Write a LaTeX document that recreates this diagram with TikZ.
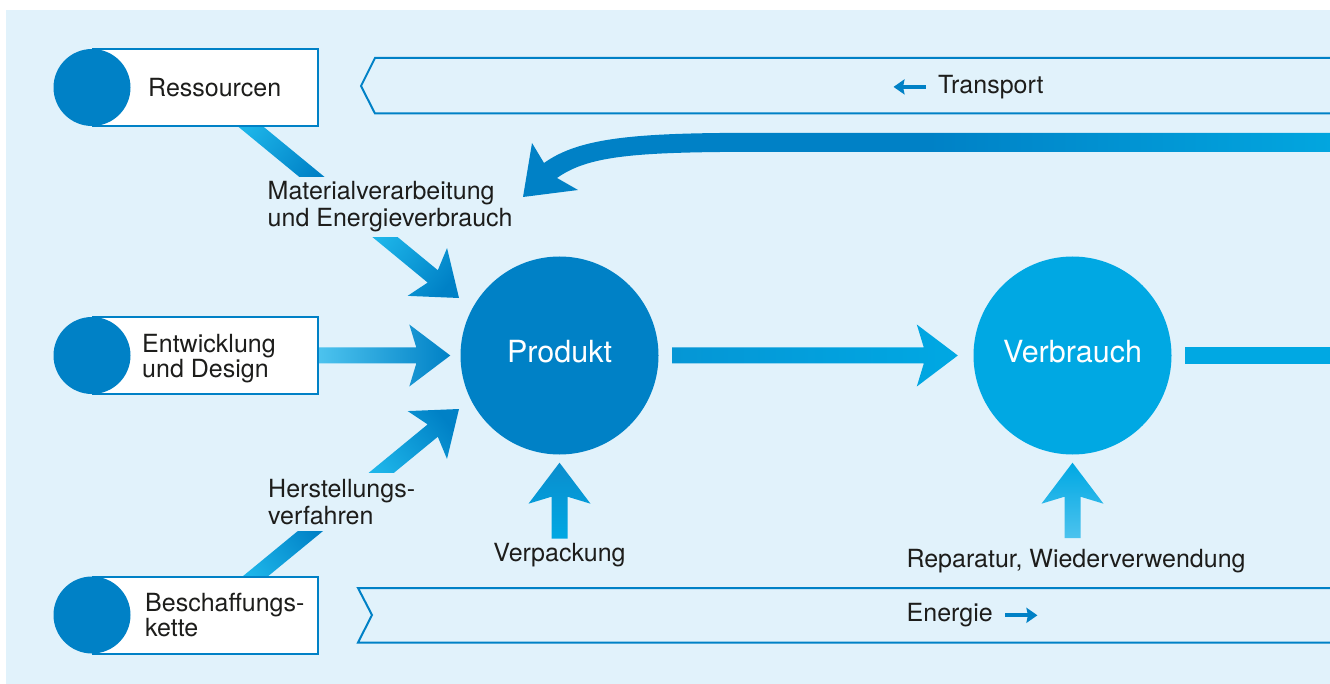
\documentclass[tikz,border=0pt]{standalone}
\usepackage{fontspec}
\setmainfont{TeX Gyre Heros}
\usepackage{xcolor}
\usepackage{tikz}
\usetikzlibrary{positioning,calc,arrows.meta}

\definecolor{bgblue}{HTML}{E1F2FB}
\definecolor{blueD}{HTML}{0081C6}
\definecolor{blueV}{HTML}{00A8E3}
\definecolor{blueL}{HTML}{1DB5E9}
\definecolor{blueLL}{HTML}{4CC3EE}
\definecolor{blueM}{HTML}{0596D5}
\definecolor{blueP}{HTML}{0A8DCD}
\definecolor{blueR}{HTML}{02A6DF}
\definecolor{txt}{HTML}{1D1D1B}

\pgfdeclarelayer{back}
\pgfdeclarelayer{flow}
\pgfsetlayers{back,flow,main}

% broad arrow from #2 to #3 (shaft 16pt, head 62pt wide)
\newcommand{\fatarrow}[3][]{%
  \coordinate (fa-q) at ($(#3)!34pt!(#2)$);
  \coordinate (fa-r) at ($(#3)!41pt!(#2)$);
  \shade[#1] ($(#2)!8pt!90:(#3)$) -- ($(fa-q)!8pt!90:(#3)$) -- ($(fa-r)!31pt!90:(#3)$) -- (#3)
    -- ($(fa-r)!31pt!-90:(#3)$) -- ($(fa-q)!8pt!-90:(#3)$) -- ($(#2)!8pt!-90:(#3)$) -- cycle;}
% broad shaft, no head
\newcommand{\fatshaft}[3][]{%
  \shade[#1] ($(#2)!8pt!90:(#3)$) -- ($(#3)!8pt!-90:(#2)$) -- ($(#3)!8pt!90:(#2)$) -- ($(#2)!8pt!-90:(#3)$) -- cycle;}

\begin{document}
\begin{tikzpicture}[x=1pt, y=-1pt,
  srcbox/.style={rectangle, draw=blueD, line width=2pt, fill=white, minimum width=225pt, minimum height=77pt},
  srcdot/.style={circle, fill=blueD, minimum size=77pt, inner sep=0pt},
  srctext/.style={inner sep=0pt, align=left, text depth=0pt, font=\fontsize{25}{25}\selectfont},
  hub/.style={circle, minimum size=198pt, inner sep=0pt, text=white, text depth=9pt, font=\fontsize{30.5}{30.5}\selectfont},
  lbl/.style={inner sep=4.5pt, align=left},
  band/.style={draw=blueD, line width=2pt},
  tinyarrow/.style={draw=blueD, line width=4pt, -{Stealth[length=11pt, width=15pt, inset=1.5pt]}},
  flow/.style n args={3}{bottom color=#2, top color=#3, shading angle=#1}]

\tikzstyle{every node}=[font=\fontsize{25}{26.7}\selectfont, text=txt]

\useasboundingbox (0,0) rectangle (1330,684);
\begin{pgfonlayer}{back}
\fill[white] (0,0) rectangle (1330,684);
\fill[bgblue] (6,10) rectangle (1330,684);
\end{pgfonlayer}

%Nodes
\node[srcbox] (res) at (205.5,87.5) {};
\node[srcbox] (ent) at (205.5,355.5) {};
\node[srcbox] (bes) at (205.5,615) {};
\node[srcdot] (resdot) at (res.west) {};
\node[srcdot] (entdot) at (ent.west) {};
\node[srcdot] (besdot) at (bes.west) {};
\node[srctext] (restxt) [right=56pt of res.west] {Ressourcen};
\node[srctext] (enttxt) [right=50pt of ent.west] {Entwicklung\\und Design};
\node[srctext] (bestxt) [right=53pt of bes.west] {Beschaffungs-\\kette};

\node[hub, fill=blueD] (prod) at (559.5,355.5) {Produkt};
\node[hub, fill=blueV] (verb) at (1072.5,355.5) {Verbrauch};

\node[lbl, fill=bgblue, anchor=north west] (mat) at (263,177) {Materialverarbeitung\\und Energieverbrauch};
\node[lbl, fill=bgblue, inner ysep=6pt, anchor=north west] (her) at (263.5,473) {Herstellungs-\\verfahren};
\node[lbl] (vpk) [below=84pt of prod] {Verpackung};
\node[lbl] (rep) [below=90pt of verb, xshift=3.5pt] {Reparatur, Wiederverwendung};

\node[inner sep=0pt, anchor=base west] (transp) at (938,93.3) {Transport};
\node[inner sep=0pt, anchor=base west] (energ) at (906.5,621.7) {Energie};

%Bands
\draw[band] (1340,58) -- (375,58) -- (361,86) -- (375,113.5) -- (1340,113.5);
\draw[band] (1340,588) -- (358,588) -- (372,615) -- (358,642.5) -- (1340,642.5);
\draw[tinyarrow] ([xshift=-12.5pt]transp.west) -- ++(-32,0);
\draw[tinyarrow] ([xshift=12.5pt]energ.east) -- ++(32,0);

%Arrow ends
\coordinate (res-a) at (241.5,119);
\coordinate (res-b) at (320.5,184);
\coordinate (res-c) at (375.2,229);
\coordinate (res-tip) at (459,298);
\coordinate (bes-a) at (246.6,583.5);
\coordinate (bes-b) at (320.8,522.5);
\coordinate (bes-c) at (372.6,480);
\coordinate (bes-tip) at (459,409);
\coordinate (ent-tip) at ($(prod.west)+(-10,0)$);
\coordinate (pv-out) at ($(prod.east)+(13.5,0)$);
\coordinate (pv-tip) at ($(verb.west)+(-15.5,0)$);
\coordinate (vo-out) at ($(verb.east)+(13.5,0)$);
\coordinate (vo-end) at (1332,355.5);
\coordinate (vpk-tip) at ($(prod.south)+(0,8)$);
\coordinate (rep-out) at ($(verb.south |- rep.north)+(0,-6.5)$);
\coordinate (rep-tip) at ($(verb.south)+(0,8)$);
\coordinate (ret-in) at (1332,142.5);
\coordinate (ret-tip) at (523,197);

%Arrows
\begin{pgfonlayer}{flow}
\fatshaft[flow={-129.5}{blueL}{blueD}]{res-a}{res-b}
\fatarrow[flow={-129.5}{blueL}{blueD}]{res-c}{res-tip}
\fatarrow[flow={-90}{blueLL}{blueD}]{ent.east}{ent-tip}
\fatshaft[flow={-50.6}{blueL}{blueD}]{bes-a}{bes-b}
\fatarrow[flow={-50.6}{blueL}{blueD}]{bes-c}{bes-tip}
\fatarrow[flow={-90}{blueM}{blueV}]{pv-out}{pv-tip}
\fatshaft[flow={-90}{blueV}{blueV}]{vo-out}{vo-end}
\fatarrow[flow={0}{blueV}{blueP}]{vpk.north}{vpk-tip}
\fatarrow[flow={0}{blueLL}{blueV}]{rep-out}{rep-tip}
\shade[left color=blueD, right color=blueR, middle color=blueD] ($(ret-in)+(0,-9.5)$) -- (720,133)
  .. controls (620,134) and (575,141) .. (544,163) -- (532,143) -- (ret-tip) -- (578,190) -- (557,178)
  .. controls (585,158) and (625,153) .. (720,152) -- ($(ret-in)+(0,9.5)$) -- cycle;
\end{pgfonlayer}

\end{tikzpicture}
\end{document}
